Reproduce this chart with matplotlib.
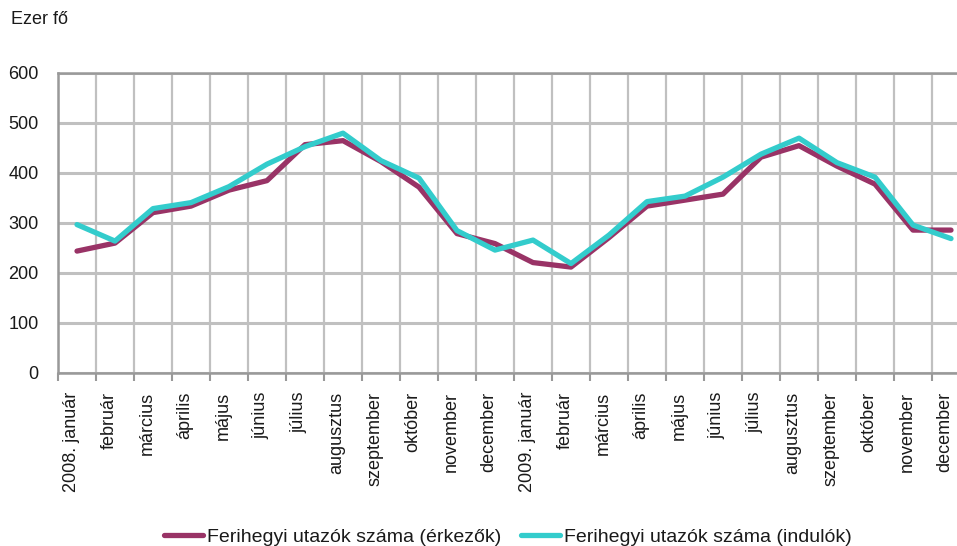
import matplotlib
matplotlib.use("Agg")
import matplotlib.pyplot as plt
import matplotlib.transforms as mtransforms
from matplotlib.ticker import FixedLocator
import numpy as np

plt.rcParams['font.family'] = ['Liberation Sans', 'DejaVu Sans']

months = ["2008. január", "február", "március", "április", "május", "június",
          "július", "augusztus", "szeptember", "október", "november", "december",
          "2009. január", "február", "március", "április", "május", "június",
          "július", "augusztus", "szeptember", "október", "november", "december"]

erkezok = [243, 259, 320, 333, 365, 384, 456, 464, 422, 371, 278, 258,
           220, 211, 270, 333, 345, 357, 431, 454, 413, 377, 285, 285]
indulok = [296, 263, 328, 340, 372, 417, 452, 479, 424, 389, 284, 245,
           265, 218, 275, 342, 353, 391, 437, 469, 420, 391, 295, 268]

series_labels = ["Ferihegyi utazók száma (érkezők)", "Ferihegyi utazók száma (indulók)"]
yticks = [0, 100, 200, 300, 400, 500, 600]

W, H = 957, 546
fig = plt.figure(figsize=(W / 100, H / 100), dpi=100)
ax = fig.add_axes([58 / W, (H - 372.5) / H, (970 - 58) / W, (372.5 - 72.7) / H])

x = np.arange(len(months))
l1, = ax.plot(x, erkezok, color="#993366", lw=3.8, solid_capstyle="round", solid_joinstyle="round", zorder=3)
l2, = ax.plot(x, indulok, color="#33CCCC", lw=3.8, solid_capstyle="round", solid_joinstyle="round", zorder=4)

ax.set_xlim(-0.5, len(months) - 0.5)
ax.set_ylim(0, 600)

ax.set_yticks(yticks)
ax.set_yticklabels([str(v) for v in yticks], fontsize=13, color="#1a1a1a")
ax.tick_params(axis="y", length=0, pad=14)

ax.set_xticks(x)
ax.set_xticklabels(months, rotation=90, fontsize=13, color="#1a1a1a", va="top", ha="center")
ax.xaxis.set_minor_locator(FixedLocator(np.arange(-0.5, len(months), 1.0)))
ax.tick_params(axis="x", which="major", length=0, pad=14)
ax.tick_params(axis="x", which="minor", length=6, width=1.5, color="#999999", direction="out")

shift = mtransforms.ScaledTranslation(-6 / 100, 0, fig.dpi_scale_trans)
for lab in ax.get_xticklabels():
    lab.set_transform(lab.get_transform() + shift)

ax.grid(axis="y", color="#c0c0c0", lw=2.2, zorder=0)
ax.grid(axis="x", which="minor", color="#c0c0c0", lw=1.6, zorder=0)
ax.grid(axis="x", which="major", visible=False)
ax.set_axisbelow(True)

for s in ["left", "bottom", "top"]:
    ax.spines[s].set_color("#999999")
    ax.spines[s].set_linewidth(1.8)
ax.spines["right"].set_visible(False)

fig.text(11 / W, 1 - 20 / H, "Ezer fő", fontsize=13, color="#1a1a1a", va="center", ha="left")

fig.legend([l1, l2], series_labels, loc="center", bbox_to_anchor=(508 / W, 1 - 537 / H),
           ncol=2, frameon=False, fontsize=14, handlelength=2.0, handletextpad=0.2,
           columnspacing=1.0, labelcolor="#1a1a1a")

fig.savefig("out.png", dpi=100)
